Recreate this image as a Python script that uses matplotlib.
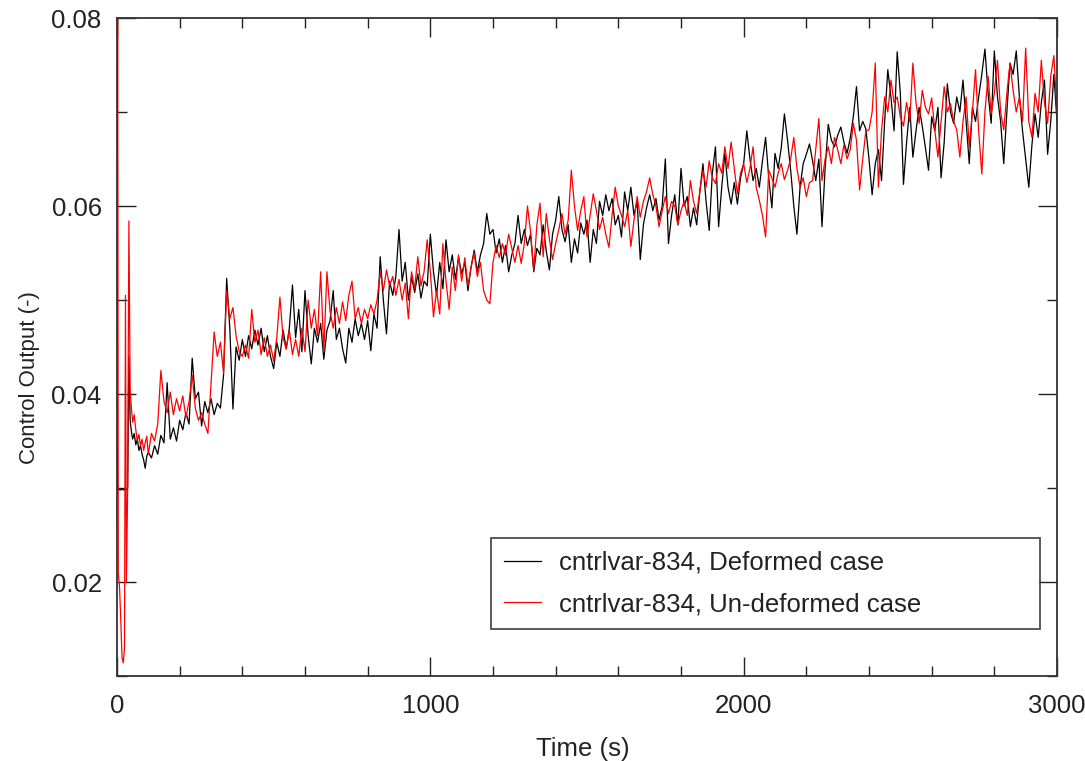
import matplotlib
matplotlib.use("Agg")
import matplotlib.pyplot as plt
from matplotlib.ticker import FixedLocator, MultipleLocator

plt.rcParams['font.family'] = ['Liberation Sans', 'DejaVu Sans']

# ---- data -------------------------------------------------------------
time_early = [0, 2, 4, 8, 12, 16, 20, 24, 27, 30, 34, 38, 42, 46, 50,
              55, 60, 65, 70, 75, 80, 85, 90, 95]
time_main = list(range(100, 3001, 10))
time_s = time_early + time_main

deformed = [
    # early transient
    0.0362, 0.0300, 0.0298, 0.0298, 0.0298, 0.0299, 0.0298, 0.0298, 0.0299, 0.0298,
    0.0300, 0.0440, 0.0372, 0.0360, 0.0352, 0.0358, 0.0346, 0.0352, 0.0340, 0.0345,
    0.0336, 0.0330, 0.0321, 0.0334,
    # 100 - 990
    0.0338, 0.0332, 0.0345, 0.0336, 0.0356, 0.0348, 0.0412, 0.0352, 0.0364, 0.0350,
    0.0372, 0.0362, 0.0380, 0.0368, 0.0438, 0.0395, 0.0402, 0.0366, 0.0392, 0.0380,
    0.0395, 0.0378, 0.0390, 0.0385, 0.0420, 0.0523, 0.0470, 0.0384, 0.0450, 0.0436,
    0.0458, 0.0440, 0.0462, 0.0448, 0.0468, 0.0452, 0.0470, 0.0445, 0.0462, 0.0440,
    0.0427, 0.0455, 0.0440, 0.0468, 0.0448, 0.0470, 0.0516, 0.0460, 0.0490, 0.0445,
    0.0510, 0.0462, 0.0432, 0.0470, 0.0455, 0.0475, 0.0437, 0.0468, 0.0478, 0.0510,
    0.0458, 0.0470, 0.0448, 0.0433, 0.0470, 0.0455, 0.0480, 0.0462, 0.0475, 0.0458,
    0.0478, 0.0446, 0.0485, 0.0470, 0.0546, 0.0500, 0.0464, 0.0520, 0.0505, 0.0525,
    0.0575, 0.0520, 0.0540, 0.0500, 0.0525, 0.0508, 0.0528, 0.0502, 0.0520, 0.0515,
    # 1000 - 1990
    0.0570, 0.0530, 0.0505, 0.0540, 0.0512, 0.0564, 0.0530, 0.0548, 0.0522, 0.0545,
    0.0528, 0.0540, 0.0510, 0.0535, 0.0553, 0.0530, 0.0548, 0.0560, 0.0592, 0.0570,
    0.0575, 0.0550, 0.0565, 0.0540, 0.0558, 0.0530, 0.0548, 0.0560, 0.0590, 0.0560,
    0.0575, 0.0558, 0.0570, 0.0530, 0.0555, 0.0548, 0.0580, 0.0552, 0.0532, 0.0570,
    0.0585, 0.0610, 0.0575, 0.0562, 0.0580, 0.0540, 0.0565, 0.0550, 0.0582, 0.0570,
    0.0585, 0.0540, 0.0575, 0.0560, 0.0605, 0.0590, 0.0612, 0.0595, 0.0608, 0.0580,
    0.0590, 0.0567, 0.0615, 0.0595, 0.0620, 0.0590, 0.0605, 0.0543, 0.0580, 0.0598,
    0.0612, 0.0595, 0.0608, 0.0585, 0.0600, 0.0650, 0.0560, 0.0590, 0.0612, 0.0580,
    0.0640, 0.0600, 0.0610, 0.0578, 0.0598, 0.0580, 0.0615, 0.0645, 0.0605, 0.0574,
    0.0635, 0.0663, 0.0578, 0.0620, 0.0656, 0.0620, 0.0602, 0.0625, 0.0602, 0.0630,
    # 2000 - 3000
    0.0645, 0.0680, 0.0650, 0.0627, 0.0640, 0.0620, 0.0648, 0.0673, 0.0630, 0.0598,
    0.0656, 0.0640, 0.0662, 0.0698, 0.0670, 0.0638, 0.0600, 0.0570, 0.0620, 0.0645,
    0.0655, 0.0666, 0.0648, 0.0627, 0.0650, 0.0578, 0.0640, 0.0687, 0.0670, 0.0663,
    0.0675, 0.0684, 0.0668, 0.0656, 0.0672, 0.0695, 0.0727, 0.0680, 0.0690, 0.0682,
    0.0650, 0.0612, 0.0645, 0.0660, 0.0627, 0.0690, 0.0745, 0.0716, 0.0680, 0.0764,
    0.0720, 0.0623, 0.0668, 0.0705, 0.0652, 0.0680, 0.0705, 0.0685, 0.0662, 0.0638,
    0.0695, 0.0680, 0.0705, 0.0630, 0.0668, 0.0730, 0.0700, 0.0688, 0.0716, 0.0700,
    0.0734, 0.0690, 0.0645, 0.0705, 0.0690, 0.0716, 0.0740, 0.0767, 0.0720, 0.0688,
    0.0765, 0.0716, 0.0690, 0.0645, 0.0700, 0.0752, 0.0740, 0.0765, 0.0716, 0.0680,
    0.0650, 0.0620, 0.0665, 0.0698, 0.0673, 0.0710, 0.0734, 0.0655, 0.0690, 0.0740,
    0.0690,
]

undeformed = [
    # early transient
    0.0360, 0.0900, 0.0210, 0.0195, 0.0160, 0.0120, 0.0114, 0.0130, 0.0505, 0.0200,
    0.0300, 0.0584, 0.0405, 0.0385, 0.0370, 0.0378, 0.0362, 0.0350, 0.0357, 0.0345,
    0.0352, 0.0340, 0.0348, 0.0355,
    # 100 - 990
    0.0336, 0.0358, 0.0350, 0.0368, 0.0425, 0.0392, 0.0380, 0.0402, 0.0378, 0.0395,
    0.0382, 0.0398, 0.0375, 0.0392, 0.0420, 0.0385, 0.0372, 0.0380, 0.0368, 0.0358,
    0.0410, 0.0466, 0.0440, 0.0455, 0.0422, 0.0510, 0.0480, 0.0492, 0.0462, 0.0445,
    0.0440, 0.0452, 0.0438, 0.0490, 0.0455, 0.0468, 0.0442, 0.0460, 0.0440, 0.0452,
    0.0435, 0.0460, 0.0503, 0.0460, 0.0448, 0.0468, 0.0442, 0.0458, 0.0440, 0.0470,
    0.0445, 0.0500, 0.0470, 0.0490, 0.0462, 0.0530, 0.0445, 0.0530, 0.0488, 0.0470,
    0.0492, 0.0475, 0.0498, 0.0478, 0.0505, 0.0520, 0.0480, 0.0492, 0.0475, 0.0490,
    0.0480, 0.0495, 0.0485, 0.0500, 0.0530, 0.0510, 0.0532, 0.0515, 0.0525, 0.0505,
    0.0522, 0.0500, 0.0518, 0.0480, 0.0530, 0.0512, 0.0546, 0.0515, 0.0530, 0.0564,
    # 1000 - 1990
    0.0530, 0.0482, 0.0510, 0.0485, 0.0560, 0.0520, 0.0490, 0.0535, 0.0510, 0.0548,
    0.0520, 0.0545, 0.0515, 0.0535, 0.0550, 0.0525, 0.0540, 0.0510, 0.0500, 0.0496,
    0.0540, 0.0558, 0.0545, 0.0560, 0.0548, 0.0570, 0.0555, 0.0540, 0.0558, 0.0539,
    0.0560, 0.0600, 0.0572, 0.0532, 0.0580, 0.0603, 0.0546, 0.0592, 0.0565, 0.0543,
    0.0560, 0.0575, 0.0592, 0.0570, 0.0585, 0.0638, 0.0600, 0.0574, 0.0595, 0.0610,
    0.0567, 0.0590, 0.0613, 0.0595, 0.0575, 0.0588, 0.0570, 0.0556, 0.0590, 0.0620,
    0.0600, 0.0590, 0.0578, 0.0595, 0.0557, 0.0585, 0.0610, 0.0588, 0.0605, 0.0615,
    0.0630, 0.0612, 0.0600, 0.0578, 0.0595, 0.0610, 0.0592, 0.0605, 0.0600, 0.0580,
    0.0595, 0.0605, 0.0590, 0.0627, 0.0605, 0.0592, 0.0615, 0.0638, 0.0620, 0.0648,
    0.0630, 0.0624, 0.0645, 0.0635, 0.0663, 0.0640, 0.0668, 0.0640, 0.0613, 0.0635,
    # 2000 - 3000
    0.0645, 0.0625, 0.0640, 0.0663, 0.0620, 0.0606, 0.0590, 0.0567, 0.0638, 0.0630,
    0.0620, 0.0635, 0.0645, 0.0628, 0.0638, 0.0650, 0.0673, 0.0640, 0.0620, 0.0630,
    0.0610, 0.0625, 0.0627, 0.0660, 0.0693, 0.0627, 0.0650, 0.0663, 0.0645, 0.0673,
    0.0660, 0.0645, 0.0665, 0.0650, 0.0660, 0.0688, 0.0670, 0.0617, 0.0650, 0.0680,
    0.0681, 0.0700, 0.0752, 0.0620, 0.0680, 0.0716, 0.0700, 0.0734, 0.0710, 0.0716,
    0.0695, 0.0685, 0.0710, 0.0690, 0.0752, 0.0710, 0.0688, 0.0723, 0.0705, 0.0698,
    0.0715, 0.0681, 0.0652, 0.0690, 0.0727, 0.0700, 0.0709, 0.0690, 0.0681, 0.0652,
    0.0690, 0.0716, 0.0663, 0.0700, 0.0745, 0.0680, 0.0634, 0.0700, 0.0738, 0.0698,
    0.0720, 0.0755, 0.0700, 0.0681, 0.0720, 0.0752, 0.0723, 0.0700, 0.0716, 0.0690,
    0.0768, 0.0690, 0.0673, 0.0720, 0.0700, 0.0755, 0.0710, 0.0688, 0.0738, 0.0760,
    0.0698,
]

series_labels = ["cntrlvar-834, Deformed case", "cntrlvar-834, Un-deformed case"]
x_major = [0, 1000, 2000, 3000]
y_major = [0.02, 0.04, 0.06, 0.08]
y_minor = [0.01, 0.03, 0.05, 0.07]

# ---- figure -----------------------------------------------------------
W, H = 1085, 761
fig = plt.figure(figsize=(W / 100, H / 100), dpi=100)
ax = fig.add_axes([117 / W, (H - 676) / H, 940 / W, 658 / H])

ax.plot(time_s, deformed, color="black", lw=0.9, label=series_labels[0])
ax.plot(time_s, undeformed, color="#ff0000", lw=0.9, label=series_labels[1])

ax.set_xlim(0, 3000)
ax.set_ylim(0.01, 0.08)

ax.xaxis.set_major_locator(FixedLocator(x_major))
ax.xaxis.set_minor_locator(MultipleLocator(200))
ax.yaxis.set_major_locator(FixedLocator(y_major))
ax.yaxis.set_minor_locator(FixedLocator(y_minor))
ax.set_yticklabels([f"{v:.2f}" for v in y_major])
ax.set_xticklabels([str(v) for v in x_major])

ax.tick_params(which="both", direction="in", top=True, right=True,
               colors="#222222", labelcolor="#222222")
ax.tick_params(which="major", length=13.7, width=1.0, labelsize=18.5)
ax.tick_params(which="minor", length=7.2, width=1.0)
ax.tick_params(axis="y", which="major", pad=11)
ax.tick_params(axis="x", which="major", pad=13)

for s in ax.spines.values():
    s.set_linewidth(1.3)
    s.set_color("#333333")

ax.set_xlabel("Time (s)", fontsize=18.5, color="#222222")
ax.set_ylabel("Control Output (-)", fontsize=16, color="#222222")
ax.xaxis.set_label_coords(0.496, -0.093)
ax.yaxis.set_label_coords(-0.082, 0.453)

leg_x0 = (491 - 117) / 940
leg_y0 = (676 - 629) / 658
leg_w = (1040 - 491) / 940
leg = ax.legend(loc="lower left", bbox_to_anchor=(leg_x0, leg_y0, leg_w, 0.0),
                mode="expand",
                fontsize=18.5, frameon=True, fancybox=False, shadow=False,
                handlelength=1.44, handletextpad=0.7, borderpad=0.5,
                labelspacing=0.67, borderaxespad=0.0)
leg.get_frame().set_edgecolor("#222222")
leg.get_frame().set_linewidth(1.3)
for t in leg.get_texts():
    t.set_color("#222222")

fig.savefig("out.png", dpi=100)
